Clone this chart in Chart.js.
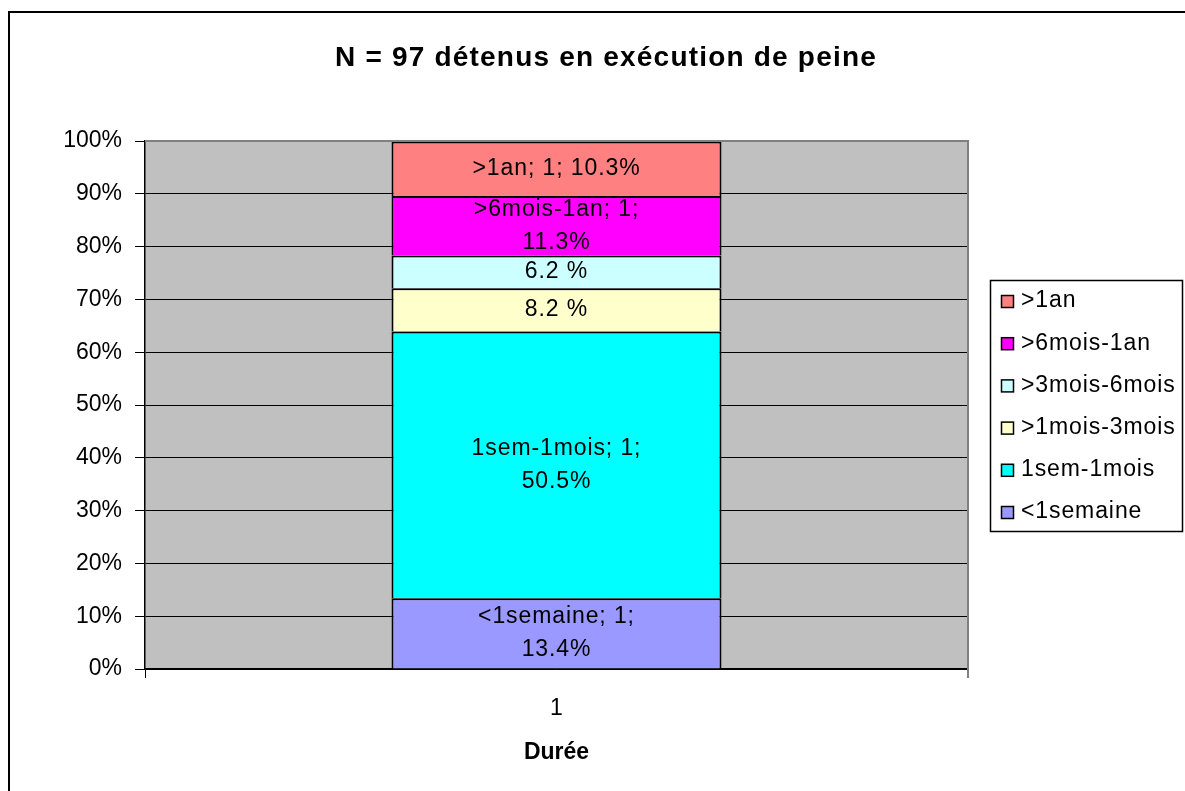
<!DOCTYPE html>
<html>
<head>
<meta charset="utf-8">
<script src="https://cdn.jsdelivr.net/npm/chart.js@4"></script>
<style>
  body { margin: 0; background: #fff; }
  #wrap { width: 1185px; height: 791px; }
</style>
</head>
<body>
<div id="wrap"><canvas id="myChart" width="1185" height="791"></canvas></div>
<script>
// chart data
const categories = ["1"];
const seriesNames = ["<1semaine", "1sem-1mois", ">1mois-3mois", ">3mois-6mois", ">6mois-1an", ">1an"];
const seriesValues = [13.4, 50.5, 8.2, 6.2, 11.3, 10.3];
const seriesColors = ["#9999FF", "#00FFFF", "#FFFFCC", "#CCFFFF", "#FF00FF", "#FF8080"];
const barLabels = [
    ["<1semaine; 1;", "13.4%"],
    ["1sem-1mois; 1;", "50.5%"],
    ["8.2 %"],
    ["6.2 %"],
    [">6mois-1an; 1;", "11.3%"],
    [">1an; 1; 10.3%"],
];
const yTicks = [0, 10, 20, 30, 40, 50, 60, 70, 80, 90, 100];

const FONT = "'Liberation Sans', Arial, sans-serif";

// plot background, outer frame and title
const backgroundPlugin = {
    id: "background",
    beforeDraw(chart) {
        const c = chart.ctx;
        const a = chart.chartArea;
        c.save();
        c.fillStyle = "#fff";
        c.fillRect(0, 0, chart.width, chart.height);
        c.strokeStyle = "#000";
        c.lineWidth = 2;
        c.strokeRect(9, 12, chart.width + 20, chart.height + 20);
        c.fillStyle = "#C0C0C0";
        c.fillRect(a.left, a.top, a.right - a.left, a.bottom - a.top);
        c.fillStyle = "#000";
        c.font = "bold 28px " + FONT;
        c.letterSpacing = "1.2px";
        c.textAlign = "center";
        c.textBaseline = "middle";
        c.fillText("N = 97 détenus en exécution de peine", 606, 58);
        c.restore();
    },
    afterDatasetsDraw(chart) {
        const c = chart.ctx;
        const a = chart.chartArea;
        c.save();
        c.strokeStyle = "#808080";
        c.lineWidth = 2;
        c.beginPath();
        c.moveTo(a.left, a.top);
        c.lineTo(a.right, a.top);
        c.lineTo(a.right, a.bottom + 9);
        c.stroke();
        c.restore();
    },
};

// value labels inside the segments
const labelPlugin = {
    id: "segLabels",
    afterDatasetsDraw(chart) {
        const c = chart.ctx;
        c.save();
        c.fillStyle = "#000";
        c.font = "23px " + FONT;
        c.letterSpacing = "0.9px";
        c.textAlign = "center";
        c.textBaseline = "middle";
        chart.data.datasets.forEach((ds, i) => {
            const bar = chart.getDatasetMeta(i).data[0];
            const mid = (bar.y + bar.base) / 2;
            const lines = barLabels[i];
            const lh = 33;
            lines.forEach((t, k) => {
                c.fillText(t, bar.x, mid + (k - (lines.length - 1) / 2) * lh);
            });
        });
        c.restore();
    },
};

// legend box on the right
const legendPlugin = {
    id: "boxLegend",
    afterDraw(chart) {
        const c = chart.ctx;
        c.save();
        c.strokeStyle = "#000";
        c.lineWidth = 1.5;
        c.strokeRect(990.5, 280.5, 192, 251);
        c.font = "23px " + FONT;
        c.letterSpacing = "0.9px";
        c.textBaseline = "middle";
        c.textAlign = "left";
        for (let i = seriesNames.length - 1; i >= 0; i--) {
            const row = seriesNames.length - 1 - i;
            const y = 301 + row * 42.2;
            c.fillStyle = seriesColors[i];
            c.fillRect(1001, y - 6, 12, 12);
            c.strokeRect(1001.5, y - 5.5, 12, 12);
            c.fillStyle = "#000";
            c.fillText(seriesNames[i], 1021, y);
        }
        c.restore();
    },
};

const canvas = document.getElementById("myChart");
const ctx = canvas.getContext("2d");
ctx.letterSpacing = "0.9px";

const config = {
    type: "bar",
    data: {
        labels: categories,
        datasets: seriesNames.map((name, i) => ({
            label: name,
            data: [seriesValues[i]],
            backgroundColor: seriesColors[i],
            borderColor: "#000",
            borderWidth: 2,
            barPercentage: 1,
            categoryPercentage: 0.401,
        })),
    },
    options: {
        responsive: false,
        animation: false,
        layout: {
            padding: { top: 141, right: 217, left: 0, bottom: 0 },
        },
        scales: {
            x: {
                stacked: true,
                afterFit(scale) {
                    scale.height = 122;
                },
                grid: {
                    offset: true,
                    drawOnChartArea: false,
                    color: "#000",
                    tickLength: 9,
                },
                border: { color: "#000", width: 1.5 },
                ticks: {
                    color: "#000",
                    font: { family: FONT, size: 23 },
                    padding: 17,
                },
                title: {
                    display: true,
                    text: "Durée",
                    color: "#000",
                    font: { family: FONT, size: 23, weight: "bold" },
                    padding: { top: 4, bottom: 25 },
                },
            },
            y: {
                stacked: true,
                min: 0,
                max: 100,
                afterFit(scale) {
                    scale.width = 145;
                },
                afterBuildTicks(scale) {
                    scale.ticks = yTicks.map((v) => ({ value: v }));
                },
                grid: {
                    color: "#000",
                    tickColor: "#000",
                    tickLength: 10,
                },
                border: { color: "#000", width: 1.5 },
                ticks: {
                    color: "#000",
                    font: { family: FONT, size: 23 },
                    padding: 13,
                    callback: function (value) {
                        return value + "%";
                    },
                },
            },
        },
        plugins: {
            legend: { display: false },
            title: { display: false },
            tooltip: { enabled: false },
        },
    },
    plugins: [backgroundPlugin, labelPlugin, legendPlugin],
};

new Chart(ctx, config);
</script>
</body>
</html>
